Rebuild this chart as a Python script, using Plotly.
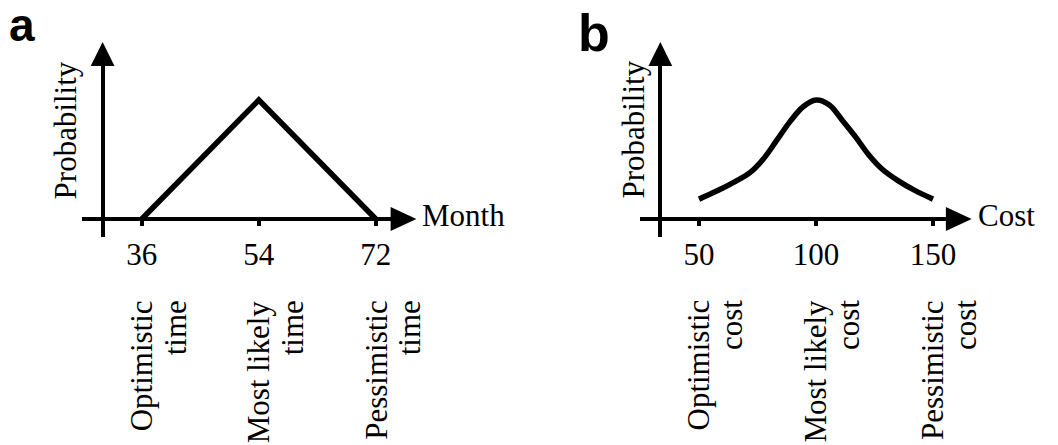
import plotly.graph_objects as go

# ---------------- data ----------------
months = [36, 54, 72]
month_prob = [0, 1, 0]
month_ticks = [36, 54, 72]
month_labels = [("Optimistic", "time"), ("Most likely", "time"), ("Pessimistic", "time")]

cost = [50, 57.8, 64.8, 71.9, 77.5, 83.2, 88.8, 94.5, 100,
        105.6, 111.2, 116.9, 122.5, 128.2, 135.2, 142.2, 150]
cost_prob = [0.167, 0.237, 0.308, 0.392, 0.505, 0.66, 0.816, 0.943, 1.0,
             0.96, 0.83, 0.69, 0.54, 0.42, 0.32, 0.24, 0.167]
cost_ticks = [50, 100, 150]
cost_labels = [("Optimistic", "cost"), ("Most likely", "cost"), ("Pessimistic", "cost")]

# ---------------- layout geometry (pixels) ----------------
W, H = 1058, 445
AXIS_Y = 219          # pixel row of the horizontal axes
PEAK_Y = 100          # pixel row for probability 1
Y_BOTTOM, Y_TOP = 237, 66
SERIF = "Liberation Serif"
SANS = "Liberation Sans"
FS = 31

def fx(px):
    return px / W

def fy(py):
    return 1 - py / H

def xrange_for(t0, t1, p0, p1, left, right):
    k = (t1 - t0) / (p1 - p0)
    return [t0 + (left - p0) * k, t0 + (right - p0) * k]

unit = AXIS_Y - PEAK_Y
yrange = [(AXIS_Y - Y_BOTTOM) / unit, (AXIS_Y - Y_TOP) / unit]

panels = [
    dict(x0=83, xend=395, tip=420, yax=103.5, p0=143, p1=379,
         ticks=month_ticks, labels=month_labels, name="Month", letter="a",
         letter_x=8, letter_bottom=52, letter_size=46, plabel_x=66, l1shift=0, l2shift=34),
    dict(x0=645, xend=955, tip=980, yax=666, p0=705, p1=941,
         ticks=cost_ticks, labels=cost_labels, name="Cost", letter="b",
         letter_x=582, letter_bottom=63, letter_size=52, plabel_x=638, l1shift=-1, l2shift=32),
]

fig = go.Figure()
fig.add_trace(go.Scatter(x=months, y=month_prob, mode="lines",
                         line=dict(color="black", width=5.5),
                         xaxis="x", yaxis="y", showlegend=False, hoverinfo="skip"))
fig.add_trace(go.Scatter(x=cost, y=cost_prob, mode="lines",
                         line=dict(color="black", width=5.5, shape="spline", smoothing=1.0),
                         xaxis="x2", yaxis="y2", showlegend=False, hoverinfo="skip"))

layout = dict(width=W, height=H, margin=dict(l=0, r=0, t=0, b=0),
              paper_bgcolor="white", plot_bgcolor="rgba(0,0,0,0)",
              showlegend=False)
shapes = []
annotations = []

for i, p in enumerate(panels):
    sfx = "" if i == 0 else str(i + 1)
    t = p["ticks"]
    xr = xrange_for(t[0], t[-1], p["p0"], p["p1"], p["x0"], p["xend"])
    layout["xaxis" + sfx] = dict(
        domain=[fx(p["x0"]), fx(p["xend"])], range=xr,
        anchor="free", position=fy(AXIS_Y),
        showline=True, linecolor="black", linewidth=3.5,
        showgrid=False, zeroline=False,
        ticks="outside", ticklen=5, tickwidth=3.5, tickcolor="black",
        tickvals=t, ticktext=[str(v) for v in t],
        tickfont=dict(family=SERIF, size=FS, color="black"),
        ticklabelstandoff=2,
        fixedrange=True,
    )
    layout["yaxis" + sfx] = dict(
        domain=[fy(Y_BOTTOM), fy(Y_TOP)], range=yrange,
        anchor="free", position=fx(p["yax"]),
        showline=True, linecolor="black", linewidth=3.5,
        showgrid=False, zeroline=False, showticklabels=False, ticks="",
        fixedrange=True,
    )
    # arrow heads
    ya = p["yax"]
    shapes.append(dict(type="path", xref="paper", yref="paper",
                       path=f"M {fx(ya-12)} {fy(Y_TOP)} L {fx(ya+12)} {fy(Y_TOP)} L {fx(ya)} {fy(42)} Z",
                       fillcolor="black", line=dict(width=0)))
    shapes.append(dict(type="path", xref="paper", yref="paper",
                       path=f"M {fx(p['xend']-1)} {fy(AXIS_Y-12)} L {fx(p['xend']-1)} {fy(AXIS_Y+12)} L {fx(p['tip'])} {fy(AXIS_Y)} Z",
                       fillcolor="black", line=dict(width=0)))
    # axis names
    annotations.append(dict(text=p["name"], xref="paper", yref="paper",
                            x=fx(p["tip"] + 4), y=fy(AXIS_Y - 4),
                            xanchor="left", yanchor="middle", showarrow=False,
                            font=dict(family=SERIF, size=FS, color="black")))
    annotations.append(dict(text="Probability", xref="paper", yref="paper",
                            x=fx(p["plabel_x"]), y=fy(130), textangle=-90,
                            xanchor="center", yanchor="middle", showarrow=False,
                            font=dict(family=SERIF, size=FS, color="black")))
    annotations.append(dict(text=p["letter"], xref="paper", yref="paper",
                            x=fx(p["letter_x"]), y=fy(p["letter_bottom"]),
                            xanchor="left", yanchor="bottom", showarrow=False, borderpad=0,
                            font=dict(family=SANS, size=p["letter_size"], color="black", weight="bold")))
    # rotated category labels under ticks
    for tv, (l1, l2) in zip(t, p["labels"]):
        annotations.append(dict(text=l1, xref="x" + sfx, yref="paper",
                                x=tv, y=fy(298), xshift=p["l1shift"], textangle=-90,
                                xanchor="center", yanchor="top", showarrow=False,
                                font=dict(family=SERIF, size=FS, color="black")))
        annotations.append(dict(text=l2, xref="x" + sfx, yref="paper",
                                x=tv, y=fy(298), xshift=p["l2shift"], textangle=-90,
                                xanchor="center", yanchor="top", showarrow=False,
                                font=dict(family=SERIF, size=FS, color="black")))

layout["shapes"] = shapes
layout["annotations"] = annotations
fig.update_layout(**layout)
fig.write_html("out.html")
